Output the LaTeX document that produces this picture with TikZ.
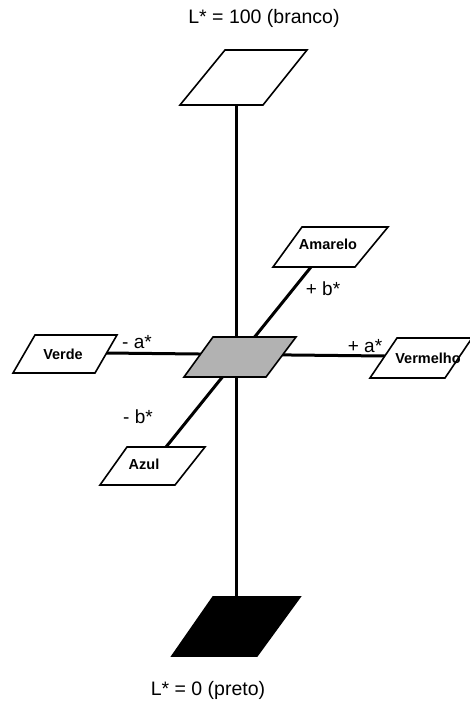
\documentclass[tikz,border=0pt]{standalone}
\usepackage{fontspec}
\setmainfont{Liberation Sans}
\begin{document}
\begin{tikzpicture}[x=1pt,y=-1pt,
  axis/.style={line width=3pt},
  plate/.style={line width=1.6pt, line join=miter},
  bigtext/.style={font=\fontsize{19.5}{21}\selectfont, inner sep=0pt},
  signtext/.style={font=\fontsize{19}{21}\selectfont, inner sep=0pt},
  colname/.style={font=\bfseries\fontsize{14.5}{16}\selectfont, inner sep=0pt}]
\useasboundingbox (0,0) rectangle (470,705);
% anchor coordinates
\coordinate (topb) at (236,105);
\coordinate (botb) at (236,597);
\coordinate (verR) at (106,353);
\coordinate (vermL) at (385,356);
\coordinate (amaB) at (311,267);
\coordinate (azuT) at (166,447);
% axes
\draw[axis] (topb) -- (botb);
\draw[axis] (verR) -- (vermL);
\draw[axis] (amaB) -- (azuT);
% plates
\draw[plate, fill=white] (225,50) -- (307,50) -- (263,105) -- (180,105) -- cycle;
\draw[plate, fill=black!30] (213,337) -- (296,337) -- (266,377) -- (184,377) -- cycle;
\draw[plate, fill=black] (213,597) -- (300,597) -- (257,656) -- (172,656) -- cycle;
\draw[plate, fill=white] (302,227) -- (388,227) -- (355,267) -- (273,267) -- cycle;
\draw[plate, fill=white] (397,338) -- (472,338) -- (445,378) -- (370,378) -- cycle;
\draw[plate, fill=white] (35,335) -- (117,335) -- (95,373) -- (13,373) -- cycle;
\draw[plate, fill=white] (127,447) -- (205,447) -- (175,485) -- (100,485) -- cycle;
% labels
\node[bigtext] (lwhite) at (264,18) {L* = 100 (branco)};
\node[bigtext] (lblack) at (208,690) {L* = 0 (preto)};
\node[signtext] (pb) at (323,289) {+ b*};
\node[signtext] (pa) at (365,346) {+ a*};
\node[signtext] (ma) at (137,342) {- a*};
\node[signtext] (mb) at (138,417) {- b*};
\node[colname] (ama) at (328,244) {Amarelo};
\node[colname] (verm) at (428,358) {Vermelho};
\node[colname] (verde) at (63,354) {Verde};
\node[colname] (azul) at (144,464) {Azul};
\end{tikzpicture}
\end{document}
